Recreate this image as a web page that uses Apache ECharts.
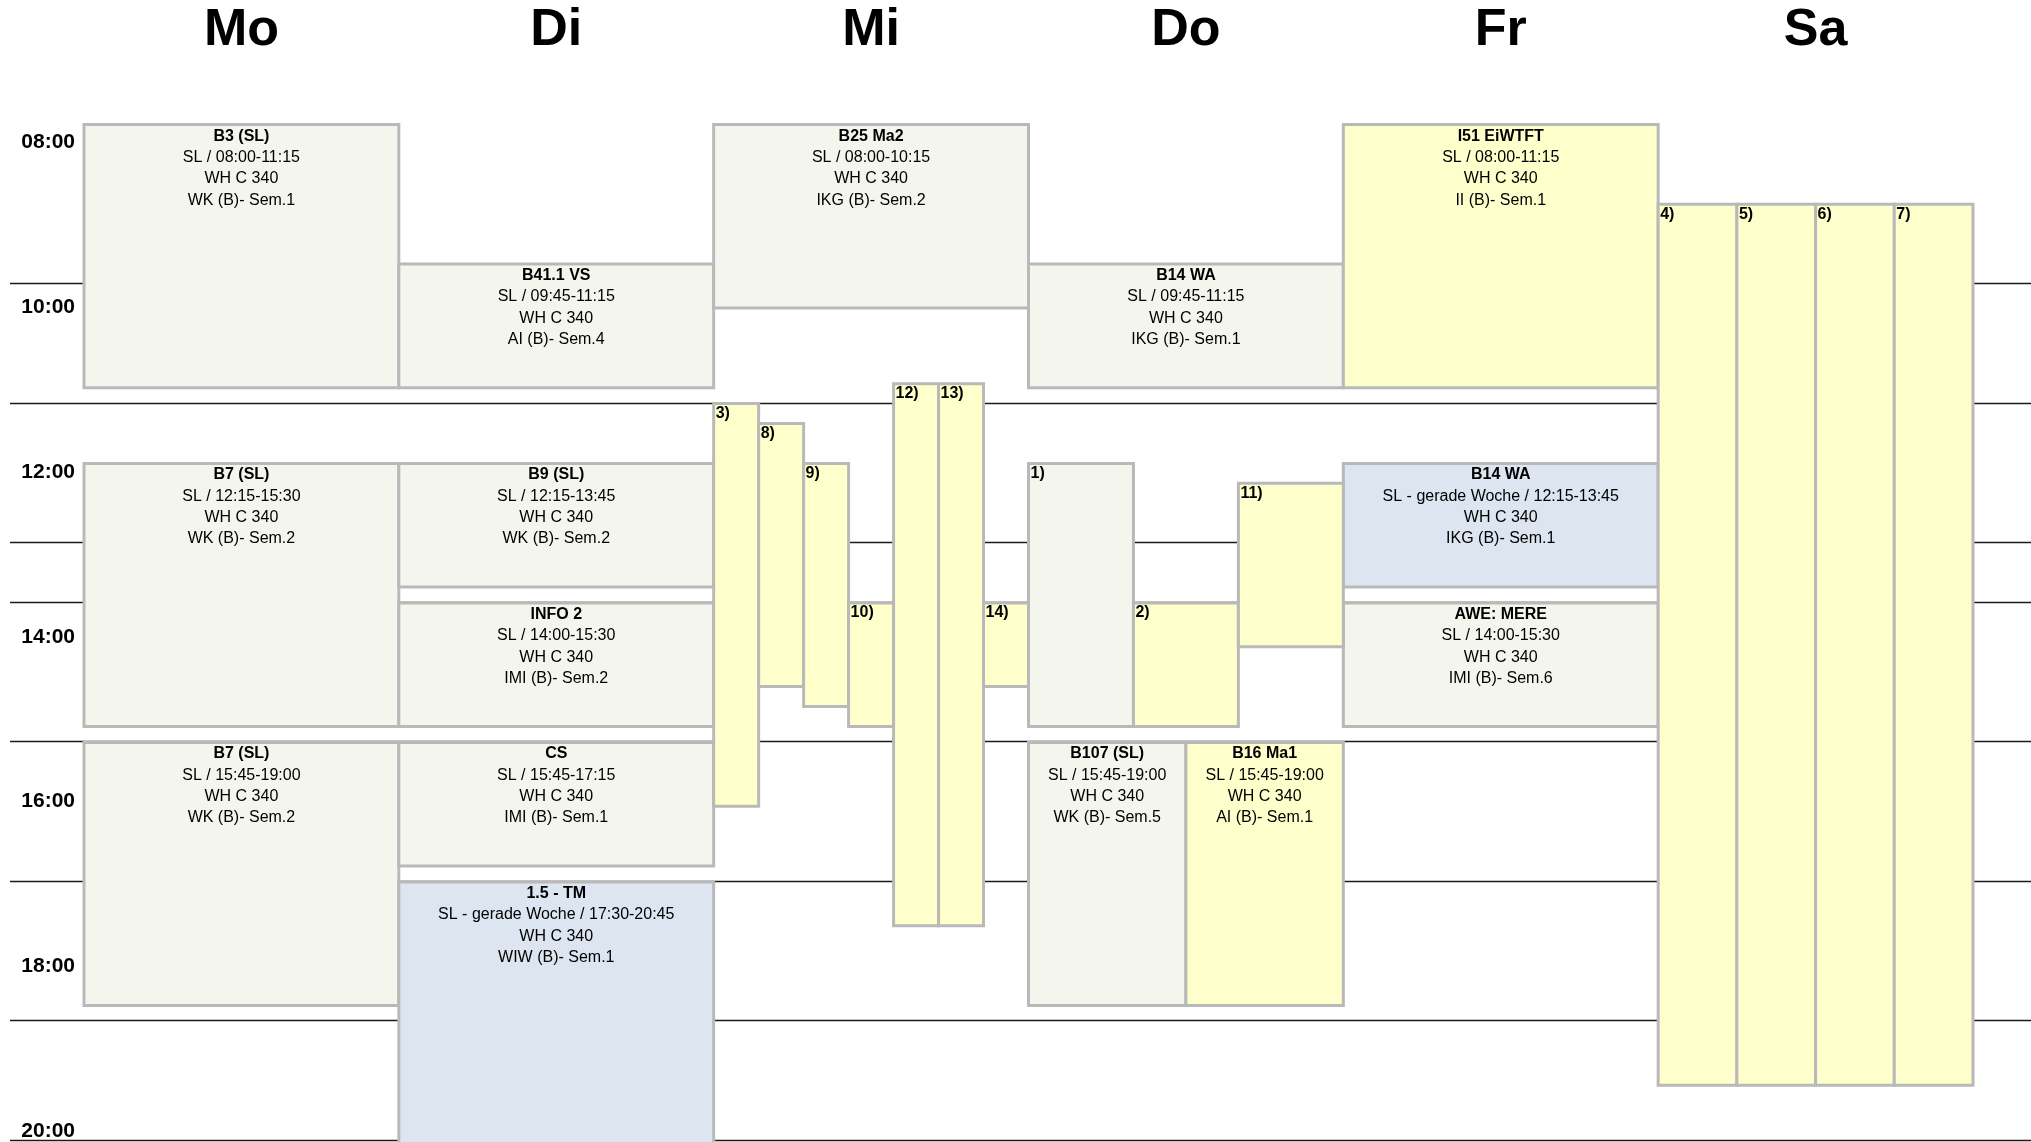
<!DOCTYPE html>
<html><head><meta charset="utf-8">
<script src="https://cdn.jsdelivr.net/npm/echarts@6/dist/echarts.min.js"></script>
<style>html,body{margin:0;padding:0;background:#fff}#c{width:2031px;height:1142px}</style>
</head><body><div id="c"></div>
<script>
// ---- data ----
const DAYS = ['Mo', 'Di', 'Mi', 'Do', 'Fr', 'Sa'];
const TIME_LABELS = ['08:00', '10:00', '12:00', '14:00', '16:00', '18:00', '20:00'];
const ROW_LINES = ['10:00', '11:30', '13:15', '14:00', '15:45', '17:30', '19:15', '20:45'];

// day, start, end, sub-column, sub-columns, kind, title, slot, room, group
const COURSES = [
  [0, '08:00', '11:15', 0, 1, 'g', 'B3 (SL)', 'SL / 08:00-11:15', 'WH C 340', 'WK (B)- Sem.1'],
  [0, '12:15', '15:30', 0, 1, 'g', 'B7 (SL)', 'SL / 12:15-15:30', 'WH C 340', 'WK (B)- Sem.2'],
  [0, '15:45', '19:00', 0, 1, 'g', 'B7 (SL)', 'SL / 15:45-19:00', 'WH C 340', 'WK (B)- Sem.2'],
  [1, '09:45', '11:15', 0, 1, 'g', 'B41.1 VS', 'SL / 09:45-11:15', 'WH C 340', 'AI (B)- Sem.4'],
  [1, '12:15', '13:45', 0, 1, 'g', 'B9 (SL)', 'SL / 12:15-13:45', 'WH C 340', 'WK (B)- Sem.2'],
  [1, '14:00', '15:30', 0, 1, 'g', 'INFO 2', 'SL / 14:00-15:30', 'WH C 340', 'IMI (B)- Sem.2'],
  [1, '15:45', '17:15', 0, 1, 'g', 'CS', 'SL / 15:45-17:15', 'WH C 340', 'IMI (B)- Sem.1'],
  [1, '17:30', '20:45', 0, 1, 'b', '1.5 - TM', 'SL - gerade Woche / 17:30-20:45', 'WH C 340', 'WIW (B)- Sem.1'],
  [2, '08:00', '10:15', 0, 1, 'g', 'B25 Ma2', 'SL / 08:00-10:15', 'WH C 340', 'IKG (B)- Sem.2'],
  [3, '09:45', '11:15', 0, 1, 'g', 'B14 WA', 'SL / 09:45-11:15', 'WH C 340', 'IKG (B)- Sem.1'],
  [3, '15:45', '19:00', 0, 2, 'g', 'B107 (SL)', 'SL / 15:45-19:00', 'WH C 340', 'WK (B)- Sem.5'],
  [3, '15:45', '19:00', 1, 2, 'y', 'B16 Ma1', 'SL / 15:45-19:00', 'WH C 340', 'AI (B)- Sem.1'],
  [4, '08:00', '11:15', 0, 1, 'y', 'I51 EiWTFT', 'SL / 08:00-11:15', 'WH C 340', 'II (B)- Sem.1'],
  [4, '12:15', '13:45', 0, 1, 'b', 'B14 WA', 'SL - gerade Woche / 12:15-13:45', 'WH C 340', 'IKG (B)- Sem.1'],
  [4, '14:00', '15:30', 0, 1, 'g', 'AWE: MERE', 'SL / 14:00-15:30', 'WH C 340', 'IMI (B)- Sem.6']
];

// day, start, end, sub-column, sub-columns, kind, note label
const NOTES = [
  [2, '11:30', '16:30', 0, 7, 'y', '3)'],
  [2, '11:45', '15:00', 1, 7, 'y', '8)'],
  [2, '12:15', '15:15', 2, 7, 'y', '9)'],
  [2, '14:00', '15:30', 3, 7, 'y', '10)'],
  [2, '11:15', '18:00', 4, 7, 'y', '12)'],
  [2, '11:15', '18:00', 5, 7, 'y', '13)'],
  [2, '14:00', '15:00', 6, 7, 'y', '14)'],
  [3, '12:15', '15:30', 0, 3, 'g', '1)'],
  [3, '14:00', '15:30', 1, 3, 'y', '2)'],
  [3, '12:30', '14:30', 2, 3, 'y', '11)'],
  [5, '09:00', '20:00', 0, 4, 'y', '4)'],
  [5, '09:00', '20:00', 1, 4, 'y', '5)'],
  [5, '09:00', '20:00', 2, 4, 'y', '6)'],
  [5, '09:00', '20:00', 3, 4, 'y', '7)']
];

// ---- style ----
const FILL = { g: '#f4f6ee', y: '#ffffcc', b: '#dce5f0' };
const BORDER = '#b9b9b9';
const FONT = '"Liberation Sans", Arial, sans-serif';
const BOTTOM_PAD = 4;

const toH = s => { const p = s.split(':').map(Number); return p[0] + p[1] / 60; };

function boxRect(api) {
  const day = api.value(0);
  const a = api.coord([day, api.value(1)]);
  const b = api.coord([day, api.value(2)]);
  const bw = api.size([1, 0])[0];
  const w = bw / api.value(4);
  return { x: a[0] - bw / 2 + api.value(3) * w, y: a[1], width: w, height: b[1] - a[1] + BOTTOM_PAD };
}

const chart = echarts.init(document.getElementById('c'));
chart.setOption({
  animation: false,
  backgroundColor: '#fff',
  grid: [
    { left: 84, width: 1889, top: 124.6, height: 1016.4 },
    { left: 84, width: 1889, top: 142, height: 995 }
  ],
  xAxis: [
    {
      gridIndex: 0, type: 'category', data: DAYS, position: 'top',
      axisLine: { show: false }, axisTick: { show: false }, splitLine: { show: false },
      axisLabel: { fontSize: 52, fontWeight: 'bold', color: '#000', fontFamily: FONT, margin: 94, verticalAlign: 'middle', interval: 0 }
    },
    { gridIndex: 1, type: 'value', show: false }
  ],
  yAxis: [
    { gridIndex: 0, type: 'value', min: 8, max: 20.75, inverse: true, show: false },
    {
      gridIndex: 1, type: 'category', data: TIME_LABELS, boundaryGap: false, inverse: true,
      axisLine: { show: false }, axisTick: { show: false }, splitLine: { show: false },
      axisLabel: { fontSize: 21, fontWeight: 'bold', color: '#000', fontFamily: FONT, margin: 9, interval: 0 }
    }
  ],
  series: [
    {
      type: 'custom', xAxisIndex: 0, yAxisIndex: 0, clip: false, z: 1, silent: true,
      data: ROW_LINES.map(t => [0, toH(t)]),
      renderItem: (params, api) => {
        const y = Math.round(api.coord([0, api.value(1)])[1]) - 0.5;
        return { type: 'line', shape: { x1: 10, y1: y, x2: api.getWidth(), y2: y }, style: { stroke: '#1a1a1a', lineWidth: 1.5 } };
      }
    },
    {
      type: 'custom', xAxisIndex: 0, yAxisIndex: 0, clip: false, z: 2, silent: true,
      data: COURSES.map(c => [c[0], toH(c[1]), toH(c[2]), c[3], c[4]]),
      renderItem: (params, api) => {
        const c = COURSES[params.dataIndex];
        const r = boxRect(api);
        return {
          type: 'group', children: [
            { type: 'rect', shape: r, style: { fill: FILL[c[5]], stroke: BORDER, lineWidth: 3 } },
            {
              type: 'text', z2: 5,
              style: {
                x: r.x + r.width / 2, y: r.y + 1, align: 'center', verticalAlign: 'top',
                text: '{t|' + c[6] + '}\n{n|' + c[7] + '}\n{n|' + c[8] + '}\n{n|' + c[9] + '}',
                fill: '#000', fontFamily: FONT, fontSize: 16,
                rich: {
                  t: { fontSize: 16, fontWeight: 'bold', lineHeight: 21.3, fontFamily: FONT, fill: '#000' },
                  n: { fontSize: 16, lineHeight: 21.3, fontFamily: FONT, fill: '#000' }
                }
              }
            }
          ]
        };
      }
    },
    {
      type: 'custom', xAxisIndex: 0, yAxisIndex: 0, clip: false, z: 3, silent: true,
      data: NOTES.map(n => [n[0], toH(n[1]), toH(n[2]), n[3], n[4]]),
      renderItem: (params, api) => {
        const n = NOTES[params.dataIndex];
        const r = boxRect(api);
        return {
          type: 'group', children: [
            { type: 'rect', shape: r, style: { fill: FILL[n[5]], stroke: BORDER, lineWidth: 3 } },
            {
              type: 'text', z2: 5,
              style: { x: r.x + 2, y: r.y + 10, align: 'left', verticalAlign: 'middle', text: n[6], fill: '#000', fontFamily: FONT, fontSize: 16, fontWeight: 'bold' }
            }
          ]
        };
      }
    }
  ]
});
</script></body></html>
